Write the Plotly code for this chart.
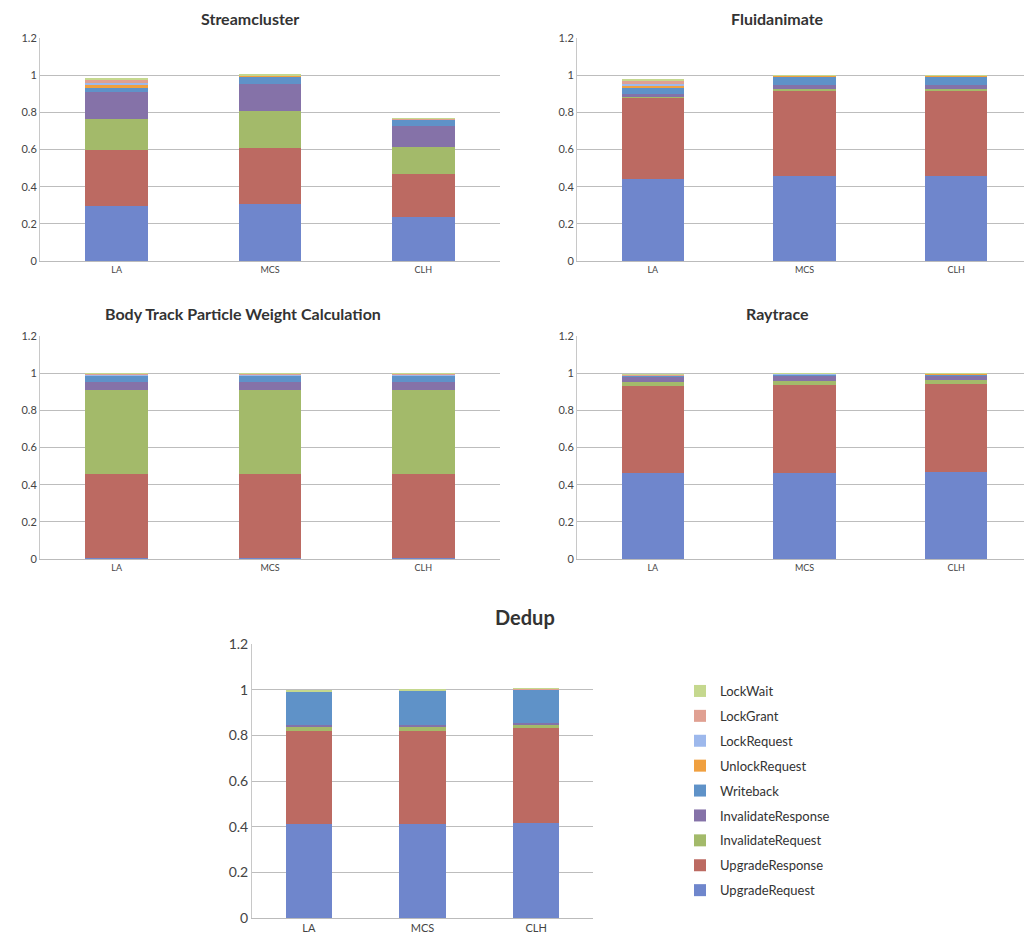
import plotly.graph_objects as go

categories = ["LA", "MCS", "CLH"]
series_names = ["UpgradeRequest", "UpgradeResponse", "InvalidateRequest", "InvalidateResponse",
                "Writeback", "UnlockRequest", "LockRequest", "LockGrant", "LockWait"]
series_colors = ["#6F86CC", "#BC6A62", "#A3BA6A", "#8572A8", "#5F92C8",
                 "#F0A040", "#9DB8EC", "#E0A092", "#C5D88E"]

# values per series, order LA, MCS, CLH
streamcluster = {
    "UpgradeRequest":     [0.295, 0.305, 0.235],
    "UpgradeResponse":    [0.300, 0.305, 0.235],
    "InvalidateRequest":  [0.170, 0.195, 0.145],
    "InvalidateResponse": [0.145, 0.150, 0.110],
    "Writeback":          [0.020, 0.040, 0.035],
    "UnlockRequest":      [0.015, 0.002, 0.002],
    "LockRequest":        [0.015, 0.002, 0.002],
    "LockGrant":          [0.015, 0.001, 0.001],
    "LockWait":           [0.005, 0.001, 0.001],
}
fluidanimate = {
    "UpgradeRequest":     [0.440, 0.460, 0.460],
    "UpgradeResponse":    [0.440, 0.460, 0.460],
    "InvalidateRequest":  [0.005, 0.005, 0.005],
    "InvalidateResponse": [0.015, 0.020, 0.020],
    "Writeback":          [0.035, 0.050, 0.050],
    "UnlockRequest":      [0.010, 0.002, 0.002],
    "LockRequest":        [0.010, 0.001, 0.001],
    "LockGrant":          [0.015, 0.001, 0.001],
    "LockWait":           [0.005, 0.001, 0.001],
}
bodytrack = {
    "UpgradeRequest":     [0.005, 0.005, 0.005],
    "UpgradeResponse":    [0.455, 0.455, 0.455],
    "InvalidateRequest":  [0.450, 0.450, 0.450],
    "InvalidateResponse": [0.040, 0.040, 0.040],
    "Writeback":          [0.035, 0.035, 0.035],
    "UnlockRequest":      [0.003, 0.003, 0.003],
    "LockRequest":        [0.007, 0.007, 0.007],
    "LockGrant":          [0.003, 0.003, 0.003],
    "LockWait":           [0.002, 0.002, 0.002],
}
raytrace = {
    "UpgradeRequest":     [0.465, 0.465, 0.470],
    "UpgradeResponse":    [0.465, 0.470, 0.470],
    "InvalidateRequest":  [0.025, 0.025, 0.025],
    "InvalidateResponse": [0.025, 0.025, 0.025],
    "Writeback":          [0.005, 0.008, 0.005],
    "UnlockRequest":      [0.002, 0.001, 0.001],
    "LockRequest":        [0.003, 0.002, 0.002],
    "LockGrant":          [0.002, 0.001, 0.001],
    "LockWait":           [0.001, 0.001, 0.001],
}
dedup = {
    "UpgradeRequest":     [0.410, 0.410, 0.415],
    "UpgradeResponse":    [0.410, 0.410, 0.415],
    "InvalidateRequest":  [0.015, 0.015, 0.015],
    "InvalidateResponse": [0.010, 0.010, 0.010],
    "Writeback":          [0.145, 0.150, 0.145],
    "UnlockRequest":      [0.001, 0.001, 0.001],
    "LockRequest":        [0.001, 0.001, 0.001],
    "LockGrant":          [0.001, 0.001, 0.001],
    "LockWait":           [0.005, 0.002, 0.002],
}

# page body has an 8px margin; figure fills the rest of the 1032x949 window
OFF = 8
W, H = 1032 - OFF, 949 - OFF
def px(x): return (x - OFF) / W
def py(y): return 1 - (y - OFF) / H

panels = [
    dict(data=streamcluster, title="Streamcluster", x=(40, 500), y=(261, 38), tx=250, ty=8, tsize=16, tick=11, cat=9, width=0.41),
    dict(data=fluidanimate, title="Fluidanimate", x=(577, 1032), y=(261, 38), tx=777, ty=8, tsize=16, tick=11, cat=9, width=0.41),
    dict(data=bodytrack, title="Body Track Particle Weight Calculation", x=(40, 500), y=(559, 336), tx=243, ty=303, tsize=16, tick=11, cat=9, width=0.41),
    dict(data=raytrace, title="Raytrace", x=(577, 1032), y=(559, 336), tx=777, ty=303, tsize=16, tick=11, cat=9, width=0.41),
    dict(data=dedup, title="Dedup", x=(252, 593), y=(918, 644), tx=525, ty=604, tsize=20, tick=14, cat=11, width=0.405),
]

fig = go.Figure()
annotations = []
for i, p in enumerate(panels):
    n = "" if i == 0 else str(i + 1)
    xa, ya = "x" + n, "y" + n
    is_legend = (i == 4)
    for k, (name, color) in enumerate(zip(series_names, series_colors)):
        fig.add_trace(go.Bar(
            x=categories, y=p["data"][name], name=name,
            marker=dict(color=color, line=dict(width=0)),
            width=p["width"], xaxis=xa, yaxis=ya,
            showlegend=is_legend, legendgroup=name, legendrank=1000 - 10 * k,
        ))
    fig.update_layout(**{
        "xaxis" + n: dict(domain=[max(0, px(p["x"][0])), min(1, px(p["x"][1]))], anchor=ya,
                          showgrid=False, showline=True, linecolor="#BBBBBB", linewidth=1,
                          ticks="", automargin=False,
                          tickfont=dict(size=p["cat"], color="#444444", family="Lato"),
                          fixedrange=True),
        "yaxis" + n: dict(domain=[py(p["y"][0]), py(p["y"][1])], anchor=xa, range=[0, 1.2],
                          tickvals=[0, 0.2, 0.4, 0.6, 0.8, 1, 1.2],
                          ticktext=["0", "0.2", "0.4", "0.6", "0.8", "1", "1.2"],
                          showgrid=True, gridcolor="#BDBDBD", gridwidth=1,
                          showline=True, linecolor="#C8C8C8", linewidth=1,
                          zeroline=False, ticks="", automargin=False,
                          tickfont=dict(size=p["tick"], color="#444444", family="Lato"),
                          fixedrange=True),
    })
    annotations.append(dict(x=px(p["tx"]), y=py(p["ty"]), xref="paper", yref="paper",
                            text="<b>" + p["title"] + "</b>", showarrow=False,
                            xanchor="center", yanchor="top", borderpad=0,
                            font=dict(size=p["tsize"], color="#333333", family="Lato")))

fig.update_layout(
    width=W, height=H, barmode="stack", bargap=0.59,
    margin=dict(l=0, r=0, t=0, b=0, autoexpand=False),
    paper_bgcolor="white", plot_bgcolor="white",
    annotations=annotations,
    legend=dict(x=px(680), y=py(676), xanchor="left", yanchor="top",
                traceorder="grouped", tracegroupgap=5,
                font=dict(size=13, color="#333333", family="Lato"),
                itemwidth=30, bgcolor="rgba(0,0,0,0)"),
    font=dict(family="Lato"),
)

fig.write_html("out.html")
